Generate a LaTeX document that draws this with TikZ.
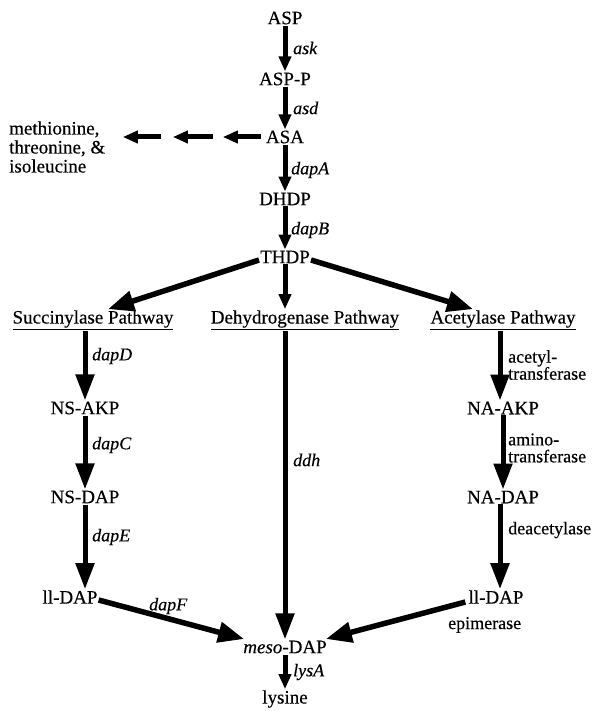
\documentclass[tikz,border=0pt]{standalone}
\usepackage{fontspec}
\setmainfont{Liberation Serif}[FakeBold=0.4]
\usetikzlibrary{arrows.meta}
\begin{document}
\begin{tikzpicture}[x=1pt,y=-1pt,
  every node/.style={font=\fontsize{19}{19}\selectfont, inner sep=1pt},
  lab/.style={font=\fontsize{18}{18}\selectfont\itshape, anchor=west},
  plab/.style={font=\fontsize{18}{17}\selectfont, anchor=west, align=left},
  sarr/.style={line width=5pt, -{Triangle[length=15pt,width=12pt]}},
  barr/.style={line width=5pt, -{Triangle[length=26pt,width=18pt]}},
  warr/.style={line width=5.5pt, -{Triangle[length=26pt,width=20pt]}}]
\useasboundingbox (0,0) rectangle (598,711);
% nodes
\node (asp) at (285,18) {ASP};
\node (aspp) at (285,79) {ASP-P};
\node (asa) at (285,137) {ASA};
\node (dhdp) at (285,199) {DHDP};
\node (thdp) at (285,257) {THDP};
\node[anchor=west, align=left, font=\fontsize{19}{19}\selectfont] (met) at (8,147) {methionine,\\threonine, \&\\isoleucine};
\node (succ) at (93,320) {\underline{Succinylase Pathway}};
\node (dehy) at (305,320) {\underline{Dehydrogenase Pathway}};
\node (acet) at (503,320) {\underline{Acetylase Pathway}};
\node (nsakp) at (85,408) {NS-AKP};
\node (nsdap) at (85,497) {NS-DAP};
\node (llL) at (70,597) {ll-DAP};
\node (naakp) at (503,408) {NA-AKP};
\node (nadap) at (503,497) {NA-DAP};
\node (llR) at (496,597) {ll-DAP};
\node (meso) at (285,647) {\textit{meso}-DAP};
\node (lys) at (285,699) {lysine};
% labels
\node[lab] at (292,48) {ask};
\node[lab] at (292,108) {asd};
\node[lab] at (290,170) {dapA};
\node[lab] at (290,230) {dapB};
\node[lab] at (91,356) {dapD};
\node[lab] at (91,445) {dapC};
\node[lab] at (91,537) {dapE};
\node[lab] at (292,460) {ddh};
\node[lab] at (148,606) {dapF};
\node[lab] at (292,672) {lysA};
\node[plab] at (507,365) {acetyl-\\transferase};
\node[plab] at (507,448) {amino-\\transferase};
\node[plab] at (507,530) {deacetylase};
\node[plab] at (447,625) {epimerase};
% main chain
\draw[sarr] (asp.south) -- (aspp.north);
\draw[sarr] (aspp.south) -- (asa.north);
\draw[sarr] (asa.south) -- (dhdp.north);
\draw[sarr] (dhdp.south) -- (thdp.north);
% side branch
\draw[sarr] ([xshift=-4pt]asa.west) -- ([xshift=-42pt]asa.west);
\draw[sarr] ([xshift=-52pt]asa.west) -- ([xshift=-92pt]asa.west);
\draw[sarr] ([xshift=-104pt]asa.west) -- ([xshift=-142pt]asa.west);
% THDP split
\draw[warr] ([yshift=-3pt]thdp.west) -- ([xshift=15pt]succ.north);
\draw[sarr] (thdp.south) -- (thdp.south |- dehy.north);
\draw[warr] ([yshift=-3pt]thdp.east) -- ([xshift=-30pt]acet.north);
% succinylase
\draw[barr] ([xshift=-8pt]succ.south) -- ([xshift=-8pt]succ.south |- nsakp.north);
\draw[barr] (nsakp.south) -- (nsakp.south |- nsdap.north);
\draw[barr] (nsdap.south) -- (nsdap.south |- llL.north);
% dehydrogenase
\draw[barr] (thdp.south |- dehy.south) -- (thdp.south |- meso.north);
% acetylase
\draw[barr] ([xshift=-3pt]acet.south) -- ([xshift=-3pt]acet.south |- naakp.north);
\draw[barr] (naakp.south) -- (naakp.south |- nadap.north);
\draw[barr] ([xshift=-3pt]nadap.south) -- ([xshift=-3pt]nadap.south |- llR.north);
% merge
\draw[warr] ([yshift=-3pt]llL.east) -- ([yshift=8pt,xshift=2pt]meso.west);
\draw[warr] ([xshift=-2pt,yshift=-5pt]llR.west) -- ([yshift=8pt,xshift=-2pt]meso.east);
\draw[sarr] (meso.south) -- (lys.north);
\end{tikzpicture}
\end{document}
